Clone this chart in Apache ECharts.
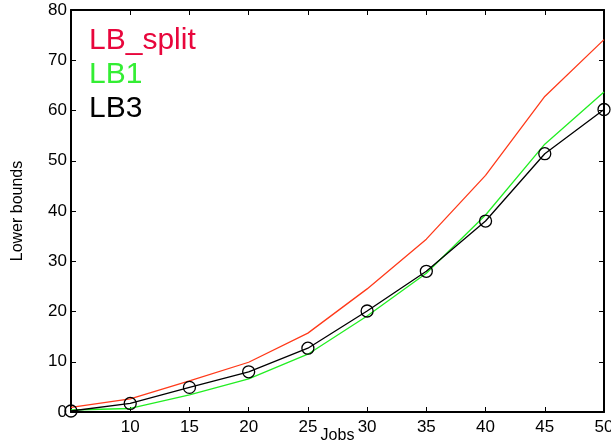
<!DOCTYPE html>
<html><head><meta charset="utf-8">
<script src="https://cdn.jsdelivr.net/npm/echarts@6/dist/echarts.min.js"></script>
<style>html,body{margin:0;padding:0;background:#fff}#c{width:611px;height:447px}</style>
</head><body><div id="c"></div>
<script>
const jobs = [5, 10, 15, 20, 25, 30, 35, 40, 45, 50];
const lbSplit = [0.9, 2.6, 6.2, 9.9, 15.7, 24.5, 34.4, 47.1, 62.8, 74.1];
const lb1 = [0.4, 0.7, 3.4, 6.6, 11.5, 19.1, 27.6, 39.2, 53.3, 63.7];
const lb3 = [0.2, 1.7, 4.9, 8.0, 12.7, 20.1, 28.0, 38.0, 51.4, 60.2];
const legendNames = ['LB_split', 'LB1', 'LB3'];
const legendColors = ['#e8063c', '#33ee33', '#000000'];

const font = 'Liberation Sans, Helvetica, Arial, sans-serif';
const chart = echarts.init(document.getElementById('c'), null, {renderer: 'canvas'});
const pair = arr => jobs.map((x, i) => [x, arr[i]]);
const tickStyle = {show: true, inside: true, length: 5, lineStyle: {color: '#000', width: 1}};
chart.setOption({
  animation: false,
  grid: {left: 71, right: 7, top: 10, bottom: 35, containLabel: false, outerBoundsMode: 'none'},
  xAxis: [
    {type: 'value', min: 5, max: 50, interval: 5, position: 'bottom',
     name: 'Jobs', nameLocation: 'middle', nameGap: 16, nameMoveOverlap: false,
     nameTextStyle: {fontFamily: font, fontSize: 16, color: '#000', padding: [0, 0, 0, 0]},
     axisLine: {show: true, onZero: false, lineStyle: {color: '#000', width: 2}},
     axisTick: tickStyle,
     axisLabel: {fontFamily: font, fontSize: 17, color: '#000', margin: 7,
       formatter: v => (v === 5 ? '' : String(v))},
     splitLine: {show: false}},
    {type: 'value', min: 5, max: 50, interval: 5, position: 'top',
     axisLine: {show: true, onZero: false, lineStyle: {color: '#000', width: 2}},
     axisTick: tickStyle, axisLabel: {show: false}, splitLine: {show: false}}
  ],
  yAxis: [
    {type: 'value', min: 0, max: 80, interval: 10, position: 'left',
     name: 'Lower bounds', nameLocation: 'middle', nameGap: 45, nameRotate: 90, nameMoveOverlap: false,
     nameTextStyle: {fontFamily: font, fontSize: 16, color: '#000'},
     axisLine: {show: true, onZero: false, lineStyle: {color: '#000', width: 2}},
     axisTick: tickStyle,
     axisLabel: {fontFamily: font, fontSize: 17, color: '#000', margin: 4},
     splitLine: {show: false}},
    {type: 'value', min: 0, max: 80, interval: 10, position: 'right',
     axisLine: {show: true, onZero: false, lineStyle: {color: '#000', width: 2}},
     axisTick: tickStyle, axisLabel: {show: false}, splitLine: {show: false}}
  ],
  series: [
    {name: legendNames[0], type: 'line', data: pair(lbSplit), symbol: 'none',
     lineStyle: {color: '#ff3a1a', width: 1.3}, itemStyle: {color: '#ff3a1a'}},
    {name: legendNames[1], type: 'line', data: pair(lb1), symbol: 'none',
     lineStyle: {color: '#22ee22', width: 1.3}, itemStyle: {color: '#22ee22'}},
    {name: legendNames[2], type: 'line', data: pair(lb3), symbol: 'circle', symbolSize: 12,
     lineStyle: {color: '#000', width: 1.3},
     itemStyle: {color: 'rgba(0,0,0,0)', borderColor: '#000', borderWidth: 1.3}}
  ],
  graphic: legendNames.map((n, i) => ({
    type: 'text', left: 89, top: 26 + i * 34,
    style: {text: n, fill: legendColors[i], font: '30px ' + font}
  }))
});
</script></body></html>
